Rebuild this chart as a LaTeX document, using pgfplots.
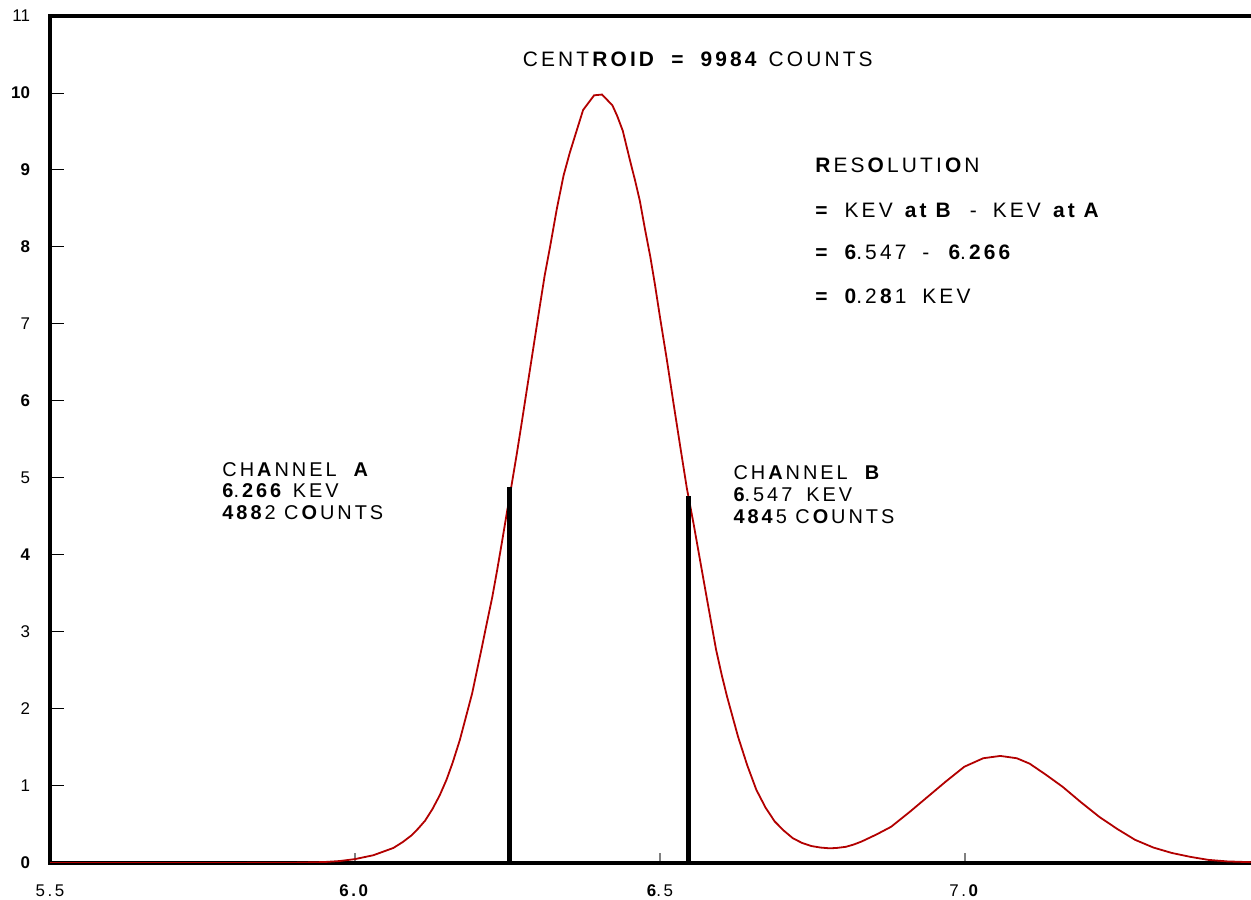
\documentclass[border=0pt]{standalone}
\usepackage{fontspec}
\setmainfont{Liberation Sans}
\newfontfamily\spaced[LetterSpace=15]{Liberation Sans}
\usepackage{pgfplots}
\pgfplotsset{compat=1.18}
\definecolor{peakred}{RGB}{178,0,0}

\begin{document}
\begin{tikzpicture}
\begin{axis}[
  x=305bp, y=38.5bp,
  xmin=5.5, xmax=7.6, ymin=0, ymax=11,
  axis line style={line width=2bp},
  tick align=inside,
  xtick pos=bottom, ytick pos=left,
  xtick={5.5,6.0,6.5,7.0},
  xticklabels={5.5,\textbf{6.0},\textbf{6}.5,7.\textbf{0}},
  ytick={0,1,...,11},
  yticklabels={\textbf{0},1,2,3,\textbf{4},5,\textbf{6},7,\textbf{8},\textbf{9},\textbf{10},11},
  major tick length=7bp,
  ytick style={black, line width=0.5bp},
  xtick style={gray, line width=0.6bp, /pgfplots/major tick length=4.75bp},
  ticklabel style={font=\fontsize{8.5}{9}\selectfont},
  yticklabel style={xshift=-6.5bp},
  xticklabel style={font=\spaced\fontsize{8.5}{9}\selectfont, yshift=-7.5bp},
]
% measured spectrum (thousands of counts vs keV)
\addplot[peakred, line width=0.9bp] coordinates {
  (5.5,0) (5.6,0) (5.7,0) (5.8,0) (5.9,0.003) (5.95,0.012) (5.975,0.025)
  (6.0,0.05) (6.03,0.1) (6.063,0.195) (6.078,0.27) (6.093,0.36) (6.104,0.45)
  (6.115,0.55) (6.127,0.70) (6.139,0.88) (6.15,1.08) (6.16,1.3) (6.172,1.6)
  (6.183,1.93) (6.192,2.2) (6.2,2.5) (6.208,2.8) (6.216,3.11) (6.225,3.45)
  (6.233,3.8) (6.241,4.17) (6.249,4.55) (6.257,4.92) (6.265,5.3) (6.273,5.7)
  (6.281,6.11) (6.292,6.67) (6.303,7.23) (6.311,7.63) (6.320,8.01) (6.331,8.5)
  (6.342,8.93) (6.352,9.22) (6.361,9.45) (6.374,9.78) (6.392,9.97) (6.405,9.98)
  (6.422,9.84) (6.43,9.7) (6.439,9.51) (6.451,9.12) (6.459,8.87) (6.467,8.60)
  (6.475,8.25) (6.484,7.88) (6.492,7.5) (6.5,7.09) (6.511,6.55) (6.522,5.98)
  (6.533,5.42) (6.544,4.87) (6.555,4.41) (6.566,3.92) (6.577,3.43) (6.592,2.77)
  (6.601,2.45) (6.610,2.16) (6.619,1.9) (6.628,1.64) (6.643,1.27) (6.658,0.95)
  (6.673,0.72) (6.688,0.54) (6.703,0.42) (6.718,0.32) (6.733,0.26) (6.748,0.22)
  (6.763,0.2) (6.778,0.19) (6.79,0.195) (6.805,0.21) (6.818,0.24) (6.831,0.28)
  (6.855,0.37) (6.879,0.47) (6.909,0.66) (6.939,0.86) (6.969,1.06) (6.999,1.25)
  (7.03,1.36) (7.058,1.39) (7.085,1.36) (7.106,1.29) (7.132,1.15) (7.160,0.99)
  (7.19,0.79) (7.220,0.60) (7.25,0.44) (7.279,0.30) (7.309,0.2) (7.339,0.13)
  (7.369,0.08) (7.399,0.04) (7.43,0.02) (7.469,0.01) (7.55,0)
};
% channels A and B
\addplot[black, line width=2.5bp, ycomb, mark=none] coordinates {
  (6.253,4.88) (6.547,4.77)
};

\node[font=\spaced\fontsize{10.5}{12}\selectfont] at (axis cs:6.562,10.44)
  {CENT\textbf{ROID}\hspace{7bp}\textbf{=}\hspace{7bp}\textbf{9984} COUNTS};

\begin{scope}[every node/.style={anchor=west, inner sep=0pt,
    font=\spaced\fontsize{10.5}{12}\selectfont}]
\node at (axis cs:6.754,9.065) {\textbf{R}ES\textbf{O}LUTI\textbf{O}N};
\node at (axis cs:6.754,8.48) {\textbf{=}\hspace{7bp}KEV \textbf{at B}\hspace{8bp}-\hspace{8bp}KEV \textbf{at A}};
\node at (axis cs:6.754,7.935) {\textbf{=}\hspace{7bp}\textbf{6}.547\hspace{8bp}-\hspace{8bp}\textbf{6}.\textbf{266}};
\node at (axis cs:6.754,7.36) {\textbf{=}\hspace{7bp}\textbf{0}.2\textbf{8}1\hspace{8bp}KEV};
\end{scope}

\node[anchor=west, inner sep=0pt, align=left,
  font=\spaced\fontsize{10}{11}\selectfont] at (axis cs:5.782,4.83)
  {CH\textbf{A}NNEL\hspace{7bp}\textbf{A}\\ \textbf{6}.\textbf{266} KEV\\ \textbf{488}2 C\textbf{O}UNTS};
\node[anchor=west, inner sep=0pt, align=left,
  font=\spaced\fontsize{10}{11}\selectfont] at (axis cs:6.62,4.78)
  {CH\textbf{A}NNEL\hspace{7bp}\textbf{B}\\ \textbf{6}.547\hspace{7bp}KEV\\ \textbf{484}5 C\textbf{O}UNTS};

\coordinate (bl) at (axis cs:5.418,-0.4805);
\coordinate (tr) at (axis cs:7.469,11.208);
\end{axis}
\pgfresetboundingbox
\useasboundingbox (bl) rectangle (tr);
\end{tikzpicture}
\end{document}
